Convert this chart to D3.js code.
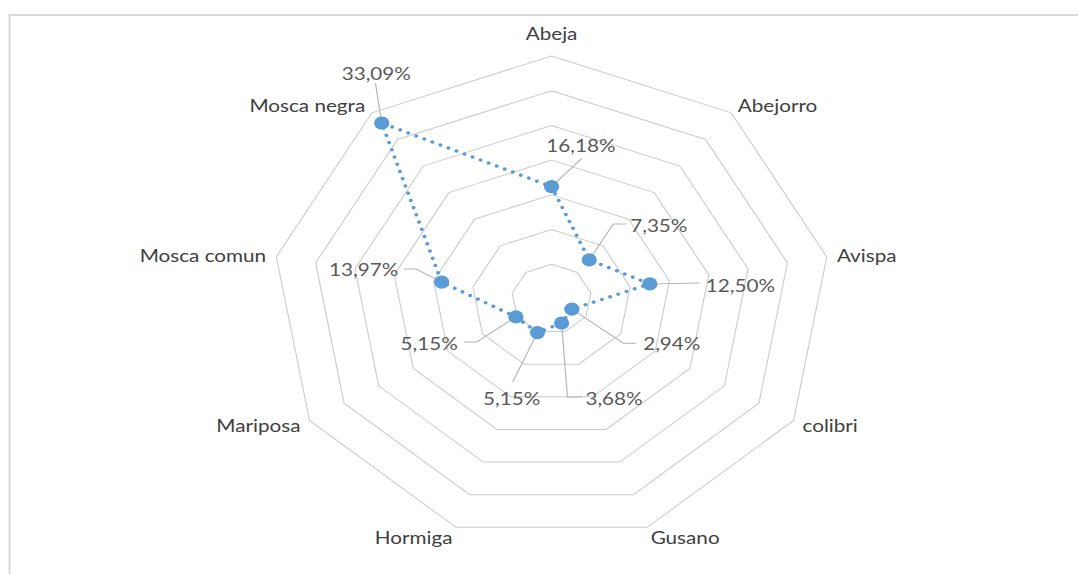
<!DOCTYPE html>
<html>
<head>
<meta charset="utf-8">
<script src="https://cdn.jsdelivr.net/npm/d3@7"></script>
<style>
  html, body { margin: 0; padding: 0; background: #fff; }
  svg { display: block; }
</style>
</head>
<body>
<svg id="chart" width="1078" height="574"></svg>
<script>
// ---- data ----
const categories = ["Abeja", "Abejorro", "Avispa", "colibri", "Gusano", "Hormiga", "Mariposa", "Mosca comun", "Mosca negra"];
const values = [16.18, 7.35, 12.50, 2.94, 3.68, 5.15, 5.15, 13.97, 33.09];
const gridTicks = [5, 10, 15, 20, 25, 30, 35];

// ---- layout (label placement relative to each point, unstretched px) ----
const labelLayout = [
  { lx: 25.5, ly: -42, anchor: "middle", leader: [[26, -28]] },
  { lx: 35.6, ly: -35, anchor: "start",  leader: [[20.9, -36], [32.1, -36]] },
  { lx: 48.7, ly: 1,   anchor: "start",  leader: [[43.5, -1]] },
  { lx: 62,   ly: 34,  anchor: "start",  leader: [[44.7, 34], [55.9, 34]] },
  { lx: 20.7, ly: 75,  anchor: "start",  leader: [[5.1, 74], [18.1, 74]] },
  { lx: -22.4, ly: 65.4, anchor: "middle", leader: [[-21.6, 49.4]] },
  { lx: -50.5, ly: 26.1, anchor: "end",  leader: [[-34, 25.1], [-45.3, 25.1]] },
  { lx: -37.8, ly: -13.2, anchor: "end", leader: [[-22.3, -13.2], [-32.6, -13.2]] },
  { lx: -4.7, ly: -50, anchor: "middle", leader: [[-5.5, -40]] }
];

const W = 1078, H = 574;
const SX = 1.15;            // horizontal stretch of the original picture
const cx = 479.6, cy = 299, R = 243;
const FONT = "Lato, 'Open Sans', sans-serif";

const svg = d3.select("#chart");

// frame
svg.append("rect")
  .attr("x", 9.5).attr("y", 15).attr("width", W + 20).attr("height", H + 20)
  .attr("fill", "none").attr("stroke", "#d9d9d9").attr("stroke-width", 2);

const root = svg.append("g").attr("transform", `scale(${SX},1)`);
const g = root.append("g").attr("transform", `translate(${cx},${cy})`);

const r = d3.scaleLinear().domain([0, 35]).range([0, R]);
const angle = d3.scaleLinear().domain([0, categories.length]).range([0, 2 * Math.PI]);

const idx = d3.range(categories.length);

// grid rings
const ring = d3.lineRadial()
  .angle(i => angle(i))
  .curve(d3.curveLinearClosed);

g.selectAll("path.ring")
  .data(gridTicks)
  .join("path")
  .attr("class", "ring")
  .attr("d", t => ring.radius(() => r(t))(idx))
  .attr("fill", "none")
  .attr("stroke", "#cccccc")
  .attr("stroke-width", 1);

// series line
const px = i => r(values[i]) * Math.sin(angle(i));
const py = i => -r(values[i]) * Math.cos(angle(i));

const seriesLine = d3.lineRadial()
  .angle(i => angle(i))
  .radius(i => r(values[i]))
  .curve(d3.curveLinearClosed);

g.append("path")
  .attr("d", seriesLine(idx))
  .attr("fill", "none")
  .attr("stroke", "#5b9bd5")
  .attr("stroke-width", 3.4)
  .attr("stroke-linecap", "round")
  .attr("stroke-dasharray", "0.01 7.6");

// leader lines
g.selectAll("path.leader")
  .data(idx)
  .join("path")
  .attr("class", "leader")
  .attr("d", i => {
    const pts = [[px(i), py(i)]].concat(labelLayout[i].leader.map(p => [px(i) + p[0], py(i) + p[1]]));
    return d3.line()(pts);
  })
  .attr("fill", "none")
  .attr("stroke", "#b3b3b3")
  .attr("stroke-width", 1);

// markers
g.selectAll("circle.pt")
  .data(idx)
  .join("circle")
  .attr("class", "pt")
  .attr("cx", px)
  .attr("cy", py)
  .attr("r", 6.6)
  .attr("fill", "#5b9bd5");

// data labels
const fmt = v => d3.format(".2f")(v).replace(".", ",") + "%";
g.selectAll("text.val")
  .data(idx)
  .join("text")
  .attr("class", "val")
  .attr("x", i => px(i) + labelLayout[i].lx)
  .attr("y", i => py(i) + labelLayout[i].ly)
  .attr("text-anchor", i => labelLayout[i].anchor)
  .attr("dominant-baseline", "central")
  .attr("font-family", FONT)
  .attr("font-size", 18)
  .attr("fill", "#595959")
  .text(i => fmt(values[i]));

// category labels
g.selectAll("text.cat")
  .data(idx)
  .join("text")
  .attr("class", "cat")
  .attr("x", i => {
    const s = Math.sin(angle(i));
    return R * s + 9 * s;
  })
  .attr("y", i => {
    const c = Math.cos(angle(i));
    const off = c > 0.95 ? 23 : 10;
    return -R * c - off * c;
  })
  .attr("text-anchor", i => {
    const s = Math.sin(angle(i));
    return s > 0.1 ? "start" : (s < -0.1 ? "end" : "middle");
  })
  .attr("dominant-baseline", "central")
  .attr("font-family", FONT)
  .attr("font-size", 18)
  .attr("fill", "#404040")
  .text(i => categories[i]);
</script>
</body>
</html>
